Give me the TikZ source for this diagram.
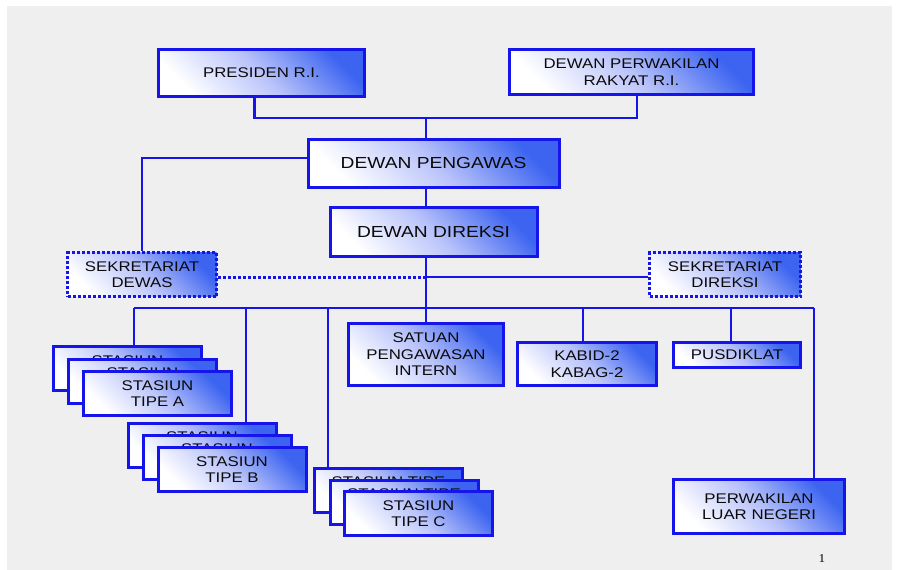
\documentclass[tikz,border=0pt]{standalone}
\usepackage{fontspec}
\setmainfont{Liberation Sans}[FakeStretch=1.2]
\newfontfamily\pagefont{Liberation Serif}[FakeStretch=1.1]
\definecolor{bordblue}{RGB}{20,20,235}
\definecolor{shblue}{RGB}{60,100,240}
\definecolor{shmid}{RGB}{185,195,250}
\definecolor{bggray}{RGB}{239,239,239}
\definecolor{txt}{RGB}{10,10,10}
\begin{document}
\begin{tikzpicture}[x=1pt,y=-1pt,
  box/.style={draw=bordblue, line width=3pt, top color=shblue, bottom color=white,
    middle color=shmid, shading angle=-45, inner sep=0pt, align=center, text=txt,
    font=\fontsize{14}{16.5}\selectfont},
  bigbox/.style={box, font=\fontsize{16}{19}\selectfont},
  dotbox/.style={box, dash pattern=on 3pt off 2pt, line width=3pt},
  conn/.style={draw=bordblue, line width=2.3pt},
  dotconn/.style={draw=bordblue, line width=3pt, dash pattern=on 3pt off 2pt}]
\useasboundingbox (0,0) rectangle (898,570);
\fill[white] (0,0) rectangle (898,570);
\fill[bggray] (7,6) rectangle (892,570);

% nodes
\node[box, minimum width=206pt, minimum height=47pt] (pres) at (261.5,73) {PRESIDEN R.I.};
\node[box, minimum width=244pt, minimum height=45pt] (dpr) at (631.5,72) {DEWAN PERWAKILAN\\RAKYAT R.I.};
\node[bigbox, minimum width=251pt, minimum height=48pt] (dp) at (433.5,163) {DEWAN PENGAWAS};
\node[bigbox, minimum width=207pt, minimum height=49pt] (dd) at (433.5,232) {DEWAN DIREKSI};
\node[dotbox, minimum width=149pt, minimum height=44pt] (sdw) at (142,274.5) {SEKRETARIAT\\DEWAS};
\node[dotbox, minimum width=151pt, minimum height=44pt] (sdr) at (725,274.5) {SEKRETARIAT\\DIREKSI};
\node[box, minimum width=155pt, minimum height=62pt] (spi) at (426,354.5) {SATUAN\\PENGAWASAN\\INTERN};
\node[box, minimum width=139pt, minimum height=43pt] (kab) at (587,364) {KABID-2\\KABAG-2};
\node[box, minimum width=127pt, minimum height=25pt] (pus) at (737,355) {PUSDIKLAT};
\node[box, minimum width=171pt, minimum height=54pt] (plu) at (759,506.5) {PERWAKILAN\\LUAR NEGERI};

% junction coordinates
\coordinate (sp) at (426,118);
\coordinate (sec) at (426,277);
\coordinate (bus) at (426,308);
\coordinate (busL) at (134,308);
\coordinate (busR) at (814,308);
\coordinate (dB) at (246,308);
\coordinate (dC) at (328,308);
\coordinate (dK) at (583,308);
\coordinate (dP) at (731,308);

% back boxes of the stacks
\node[box, minimum width=148pt, minimum height=44pt] (a1) at (127.5,368.5) {STASIUN\\\phantom{TIPE A}};
\node[box, minimum width=148pt, minimum height=44pt] (b1) at (202,445) {STASIUN\\\phantom{TIPE B}};
\node[box, minimum width=148pt, minimum height=44pt] (c1) at (388.5,490) {STASIUN TIPE\\\phantom{C}};

% connectors
\draw[conn] ([xshift=-7pt]pres.south) |- (sp);
\draw[conn] ([xshift=5.5pt]dpr.south) |- (sp);
\draw[conn] (sp) -- (sp |- dp.north);
\draw[conn] (sp |- dp.south) -- (sp |- dd.north);
\draw[conn] ([yshift=5pt]dp.west) -| (sdw.north);
\draw[dotconn] (sdw.east |- sec) -- (sec);
\draw[conn] (sec) -- (sec -| sdr.west);
\draw[conn] (sp |- dd.south) -- (bus);
\draw[conn] (busL) -- (busR);
\draw[conn] (busL) -- (busL |- a1.north);
\draw[conn] (dB) -- (dB |- b1.north);
\draw[conn] (dC) -- (dC |- c1.north);
\draw[conn] (bus) -- (spi.north);
\draw[conn] (dK) -- (dK |- kab.north);
\draw[conn] (dP) -- (dP |- pus.north);
\draw[conn] (busR) -- (busR |- plu.north);

\node[box, minimum width=148pt, minimum height=44pt] (a2) at (142.5,381) {STASIUN\\\phantom{TIPE A}};
\node[box, minimum width=148pt, minimum height=44pt] (a3) at (157.5,393.5) {STASIUN\\TIPE A};
\node[box, minimum width=148pt, minimum height=44pt] (b2) at (217,457) {STASIUN\\\phantom{TIPE B}};
\node[box, minimum width=148pt, minimum height=44pt] (b3) at (232,469.5) {STASIUN\\TIPE B};
\node[box, minimum width=148pt, minimum height=44pt] (c2) at (404,502) {STASIUN TIPE\\\phantom{C}};
\node[box, minimum width=148pt, minimum height=44pt] (c3) at (418.5,513.5) {STASIUN\\TIPE C};

\node[font=\pagefont\fontsize{12}{12}\selectfont, text=black, inner sep=0pt] (pg) at (822,559) {1};
\end{tikzpicture}
\end{document}
